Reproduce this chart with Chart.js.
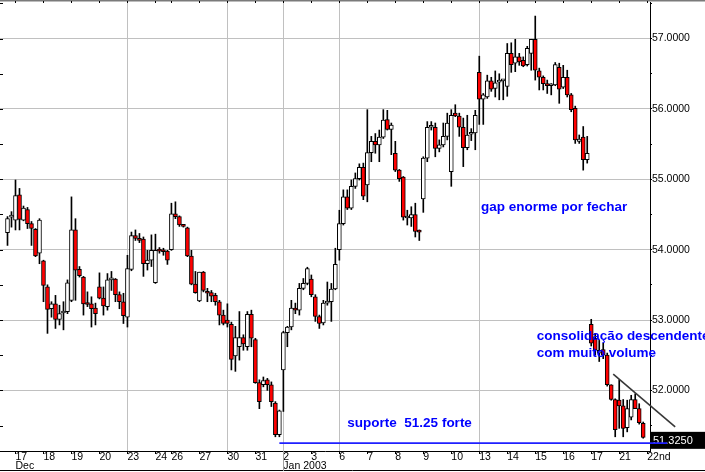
<!DOCTYPE html>
<html>
<head>
<meta charset="utf-8">
<script src="https://cdn.jsdelivr.net/npm/chart.js@4.4.1/dist/chart.umd.min.js"></script>
<style>
  html, body { margin: 0; padding: 0; background: #fff; }
  canvas { display: block; }
</style>
</head>
<body>
<canvas id="chart" width="705" height="472"></canvas>
<script>
// hourly bars, last two of 16 Dec 2002 .. 21 Jan 2003 (bar index = position on the x axis)
const opens = [
    54.24, 54.46, 54.42, 54.78, 54.42, 54.57, 54.37, 54.29, 53.95, 53.84,
    53.47, 53.16, 53.23, 53.01, 53.10, 53.12, 53.28, 54.28, 53.72, 53.61,
    53.23, 53.23, 53.17, 53.47, 53.31, 53.19, 53.57, 53.58, 53.36, 53.26,
    53.04, 53.72, 54.20, 54.16, 54.15, 53.80, 53.85, 53.53, 54.00, 53.99,
    53.98, 54.00, 54.51, 54.47, 54.35, 54.31, 53.91, 53.51, 53.27, 53.68,
    53.40, 53.39, 53.35, 53.26, 53.07, 53.00, 52.94, 52.49, 52.62, 52.75,
    52.62, 53.08, 52.72, 52.11, 52.08, 52.15, 52.08, 51.82, 51.37, 52.29,
    52.82, 52.90, 53.17, 53.14, 53.45, 53.52, 53.58, 53.33, 53.05, 52.96,
    53.24, 53.26, 53.44, 54.00, 54.37, 54.75, 54.59, 54.90, 55.01, 55.17,
    54.92, 55.38, 55.54, 55.49, 55.60, 55.85, 55.71, 55.37, 55.13, 55.03,
    54.45, 54.45, 54.50, 54.26, 54.72, 55.30, 55.74, 55.74, 55.44, 55.49,
    55.61, 55.11, 55.94, 55.90, 55.74, 55.45, 55.64, 55.66, 56.52, 56.14,
    56.17, 56.40, 56.29, 56.38, 56.40, 56.32, 56.79, 56.65, 56.74, 56.69,
    56.63, 56.79, 56.99, 56.54, 56.45, 56.36, 56.33, 56.34, 56.59, 56.31,
    56.45, 56.20, 56.01, 55.54, 55.60, 55.28, 52.94, 52.74, 52.53, 52.58,
    52.50, 52.08, 51.87, 51.86, 51.78, 51.47, 51.62, 51.87, 51.74, 51.53
];
const highs = [
    54.47, 54.54, 54.99, 54.87, 54.62, 54.60, 54.40, 54.30, 54.44, 53.85,
    53.50, 53.26, 53.35, 53.21, 53.26, 53.57, 54.75, 54.44, 53.76, 53.62,
    53.40, 53.33, 53.24, 53.67, 53.47, 53.66, 53.69, 53.59, 53.40, 53.38,
    53.92, 54.25, 54.28, 54.23, 54.18, 53.99, 54.21, 54.22, 54.03, 54.02,
    53.99, 54.66, 54.68, 54.48, 54.36, 54.32, 53.99, 53.69, 53.68, 53.69,
    53.45, 53.42, 53.38, 53.28, 53.14, 53.23, 52.97, 52.91, 53.12, 52.79,
    53.12, 53.14, 52.74, 52.15, 52.19, 52.17, 52.12, 51.84, 51.72, 52.84,
    52.91, 53.28, 53.24, 53.52, 53.59, 53.75, 53.64, 53.36, 53.07, 53.28,
    53.54, 53.52, 54.02, 54.56, 54.85, 54.85, 54.99, 55.09, 55.22, 55.23,
    55.99, 55.61, 55.65, 55.70, 55.99, 55.98, 55.80, 55.54, 55.14, 55.04,
    54.56, 54.61, 54.66, 54.28, 55.32, 55.82, 55.82, 55.80, 55.56, 55.80,
    55.94, 55.99, 56.06, 55.94, 55.87, 55.91, 55.72, 55.98, 56.75, 56.22,
    56.48, 56.45, 56.54, 56.50, 56.42, 56.93, 56.94, 56.99, 56.79, 56.74,
    56.89, 56.99, 57.32, 56.58, 56.47, 56.41, 56.36, 56.66, 56.65, 56.62,
    56.55, 56.22, 56.04, 55.63, 55.75, 55.61, 53.01, 52.81, 52.71, 52.67,
    52.53, 52.08, 51.88, 52.15, 51.87, 51.86, 51.93, 51.95, 51.81, 51.55
];
const lows = [
    54.06, 54.32, 54.28, 54.28, 54.41, 54.30, 54.06, 53.90, 53.80, 53.26,
    52.81, 53.04, 52.88, 52.93, 52.86, 53.09, 53.26, 53.28, 53.61, 53.07,
    53.19, 52.90, 52.93, 53.30, 53.07, 53.14, 53.42, 53.26, 53.16, 52.95,
    52.90, 53.70, 54.13, 54.10, 53.62, 53.71, 53.76, 53.52, 53.95, 53.92,
    53.79, 53.99, 54.44, 54.33, 54.32, 53.90, 53.50, 53.38, 53.26, 53.40,
    53.26, 53.26, 53.21, 52.93, 52.93, 52.90, 52.29, 52.27, 52.43, 52.57,
    52.57, 52.62, 52.10, 51.74, 52.05, 52.00, 51.77, 51.34, 51.34, 51.70,
    52.62, 52.86, 53.09, 53.07, 53.43, 53.50, 53.33, 52.98, 52.88, 52.93,
    53.21, 52.98, 53.43, 53.85, 54.35, 54.57, 54.57, 54.87, 54.99, 54.71,
    54.68, 55.25, 55.37, 55.25, 55.58, 55.70, 55.35, 55.11, 54.97, 54.42,
    54.35, 54.33, 54.18, 54.13, 54.53, 55.25, 55.70, 55.32, 55.39, 55.46,
    55.56, 54.90, 55.89, 55.61, 55.18, 55.42, 55.55, 55.42, 55.78, 55.78,
    56.15, 56.25, 56.17, 56.13, 56.13, 56.18, 56.52, 56.53, 56.62, 56.60,
    56.61, 56.55, 56.41, 56.27, 56.27, 56.22, 56.20, 56.33, 56.08, 56.29,
    56.17, 55.96, 55.51, 55.51, 55.13, 55.23, 52.63, 52.50, 52.41, 52.45,
    52.06, 51.86, 51.34, 51.46, 51.34, 51.41, 51.58, 51.74, 51.52, 51.32
];
const closes = [
    54.44, 54.49, 54.77, 54.43, 54.59, 54.37, 54.30, 53.91, 54.42, 53.49,
    53.15, 53.23, 53.01, 53.09, 53.12, 53.53, 54.28, 53.71, 53.63, 53.23,
    53.22, 53.16, 53.09, 53.31, 53.20, 53.57, 53.58, 53.36, 53.26, 53.06,
    53.73, 54.20, 54.16, 54.13, 53.80, 53.85, 53.99, 53.99, 53.98, 53.97,
    53.85, 54.51, 54.47, 54.35, 54.33, 53.91, 53.51, 53.39, 53.68, 53.42,
    53.38, 53.34, 53.26, 53.07, 52.95, 52.95, 52.44, 52.75, 52.75, 52.66,
    53.08, 52.74, 52.11, 51.84, 52.14, 52.08, 51.84, 51.37, 51.71, 52.82,
    52.90, 53.17, 53.14, 53.45, 53.52, 53.73, 53.36, 53.05, 52.95, 53.24,
    53.26, 53.44, 53.79, 54.37, 54.75, 54.59, 54.90, 55.01, 55.17, 54.76,
    55.38, 55.54, 55.49, 55.60, 55.84, 55.71, 55.77, 55.13, 55.01, 54.46,
    54.47, 54.50, 54.26, 54.25, 55.30, 55.74, 55.74, 55.44, 55.49, 55.61,
    55.80, 55.91, 55.90, 55.74, 55.45, 55.63, 55.66, 55.91, 56.14, 56.20,
    56.40, 56.28, 56.37, 56.41, 56.40, 56.79, 56.63, 56.74, 56.67, 56.61,
    56.86, 56.99, 56.55, 56.45, 56.36, 56.33, 56.35, 56.63, 56.28, 56.45,
    56.20, 55.99, 55.56, 55.57, 55.28, 55.37, 52.67, 52.57, 52.57, 52.50,
    52.08, 51.87, 51.44, 51.78, 51.46, 51.74, 51.87, 51.74, 51.54, 51.33
];

// first bar of each trading day and its axis label
const dayStartBar = [2, 9, 16, 23, 30, 37, 41, 48, 55, 62, 69, 76, 83, 90, 97, 104, 111, 118, 125, 132, 139, 146, 153, 160];
const dayLabels = ['17', '18', '19', '20', '23', '24', '26', '27', '30', '31', '2', '3', '6', '7', '8', '9', '10', '13', '14', '15', '16', '17', '21', '22nd'];
const monthLabels = ['Dec', '', '', '', '', '', '', '', '', '', 'Jan 2003', '', '', '', '', '', '', '', '', '', '', '', '', ''];
const weekLineBars = [30, 55, 69, 83, 118];
const priceTicks = [51.5, 52, 52.5, 53, 53.5, 54, 54.5, 55, 55.5, 56, 56.5, 57, 57.5];

const lastPrice = 51.325;
const supportPrice = 51.25;
const supportFromBar = 68;
const trendLine = [{ bar: 151.5, price: 52.23 }, { bar: 167, price: 51.48 }];
const notes = [
    { text: 'gap enorme por fechar', bar: 118.4, price: 54.55 },
    { text: 'consolidação descendente', bar: 132.4, price: 52.72 },
    { text: 'com muito volume', bar: 132.4, price: 52.48 },
    { text: 'suporte  51.25 forte', bar: 85.0, price: 51.48 },
];

const FONT = '"Liberation Sans", Arial, sans-serif';

const bodies = opens.map((o, i) => ({ x: i, y: [Math.min(o, closes[i]), Math.max(o, closes[i])] }));
const wicks = lows.map((l, i) => ({ x: i, y: [l, highs[i]] }));
const bodyColors = opens.map((o, i) => closes[i] < o ? '#ff0000' : '#ffffff');

const overlay = {
    id: 'overlay',
    afterDraw(chart) {
        const { ctx, chartArea: area, scales: { x, y } } = chart;
        const W = chart.width, H = chart.height;
        ctx.save();

        // frame: top edge, bottom edge, month separator
        ctx.fillStyle = '#7a7a7a';
        ctx.fillRect(0, 0, W, 1.5);
        ctx.strokeStyle = '#000';
        ctx.lineWidth = 1;
        ctx.beginPath();
        ctx.moveTo(0, H - 1.5); ctx.lineTo(W, H - 1.5);
        dayStartBar.forEach(b => {
            const px = Math.round(x.getPixelForValue(b)) + 0.5;
            ctx.moveTo(px, 1); ctx.lineTo(px, 3);
        });
        priceTicks.forEach(p => {
            const py = Math.round(y.getPixelForValue(p)) + 0.5;
            ctx.moveTo(0, py); ctx.lineTo(3, py);
        });
        ctx.stroke();

        const monthX = Math.round(x.getPixelForValue(69)) + 0.5;
        ctx.strokeStyle = '#a0a0a0';
        ctx.beginPath();
        ctx.moveTo(monthX, area.bottom); ctx.lineTo(monthX, H - 1);
        ctx.stroke();

        // last price box
        const lastY = y.getPixelForValue(lastPrice) + 2;
        ctx.fillStyle = '#000';
        ctx.fillRect(area.right + 1, lastY - 8, W - area.right - 1, 17);
        ctx.fillStyle = '#fff';
        ctx.font = '11px ' + FONT;
        ctx.textBaseline = 'middle';
        ctx.textAlign = 'left';
        ctx.fillText(lastPrice.toFixed(4), area.right + 3, lastY + 1);

        // support line
        const supY = y.getPixelForValue(supportPrice);
        ctx.strokeStyle = '#1f1fff';
        ctx.lineWidth = 1.6;
        ctx.beginPath();
        ctx.moveTo(x.getPixelForValue(supportFromBar), supY);
        ctx.lineTo(x.getPixelForValue(165), supY);
        ctx.stroke();

        // descending trend line
        ctx.strokeStyle = '#383838';
        ctx.lineWidth = 1.6;
        ctx.beginPath();
        ctx.moveTo(x.getPixelForValue(trendLine[0].bar), y.getPixelForValue(trendLine[0].price));
        ctx.lineTo(x.getPixelForValue(trendLine[1].bar), y.getPixelForValue(trendLine[1].price));
        ctx.stroke();

        // notes
        ctx.fillStyle = '#0000ff';
        ctx.font = 'bold 13.5px ' + FONT;
        ctx.textBaseline = 'alphabetic';
        notes.forEach(n => ctx.fillText(n.text, x.getPixelForValue(n.bar), y.getPixelForValue(n.price)));

        ctx.restore();
    }
};

const ctx = document.getElementById('chart').getContext('2d');
const stockChart = new Chart(ctx, {
    type: 'bar',
    data: {
        datasets: [
            {
                label: 'body',
                data: bodies,
                backgroundColor: bodyColors,
                borderColor: '#000',
                borderWidth: 1,
                borderSkipped: false,
                barThickness: 4,
                minBarLength: 2,
                grouped: false,
                order: 0,
            },
            {
                label: 'wick',
                data: wicks,
                backgroundColor: '#000',
                borderWidth: 0,
                barThickness: 1,
                grouped: false,
                order: 1,
            }
        ]
    },
    options: {
        responsive: false,
        animation: false,
        devicePixelRatio: 1,
        layout: { padding: { top: 2, left: 0, right: 0, bottom: 0 } },
        plugins: {
            legend: { display: false },
            tooltip: { enabled: false },
        },
        scales: {
            x: {
                type: 'linear',
                offset: false,
                min: -1.876,
                max: 160.7,
                afterBuildTicks: (scale) => {
                    scale.ticks = dayStartBar.map(v => ({ value: v }));
                },
                afterFit: (scale) => {
                    scale.height = 21;
                    scale.paddingLeft = 0;
                    scale.paddingRight = 0;
                },
                border: { color: '#000', width: 1 },
                grid: {
                    offset: false,
                    color: (c) => weekLineBars.includes(c.tick && c.tick.value) ? '#c0c0c0' : 'rgba(0,0,0,0)',
                    tickColor: '#000',
                    tickLength: 3,
                },
                ticks: {
                    autoSkip: false,
                    maxRotation: 0,
                    align: 'start',
                    padding: -1,
                    color: '#000',
                    font: { family: FONT, size: 10.5, lineHeight: 0.86 },
                    callback: (value, index) => monthLabels[index] ? [dayLabels[index], monthLabels[index]] : dayLabels[index],
                },
            },
            y: {
                position: 'right',
                beginAtZero: false,
                min: 51.138,
                max: 57.52,
                afterBuildTicks: (scale) => {
                    scale.ticks = priceTicks.map(v => ({ value: v }));
                },
                afterFit: (scale) => {
                    scale.width = 55;
                    scale.paddingTop = 0;
                    scale.paddingBottom = 0;
                },
                border: { color: '#000', width: 1 },
                grid: {
                    color: (c) => Number.isInteger(c.tick && c.tick.value) ? '#c0c0c0' : 'rgba(0,0,0,0)',
                    tickColor: '#000',
                    tickLength: 2,
                },
                ticks: {
                    padding: 0,
                    color: '#000',
                    font: { family: FONT, size: 10.5 },
                    callback: (value) => Number.isInteger(value) ? value.toFixed(4) : '',
                },
            }
        }
    },
    plugins: [overlay]
});
</script>
</body>
</html>
